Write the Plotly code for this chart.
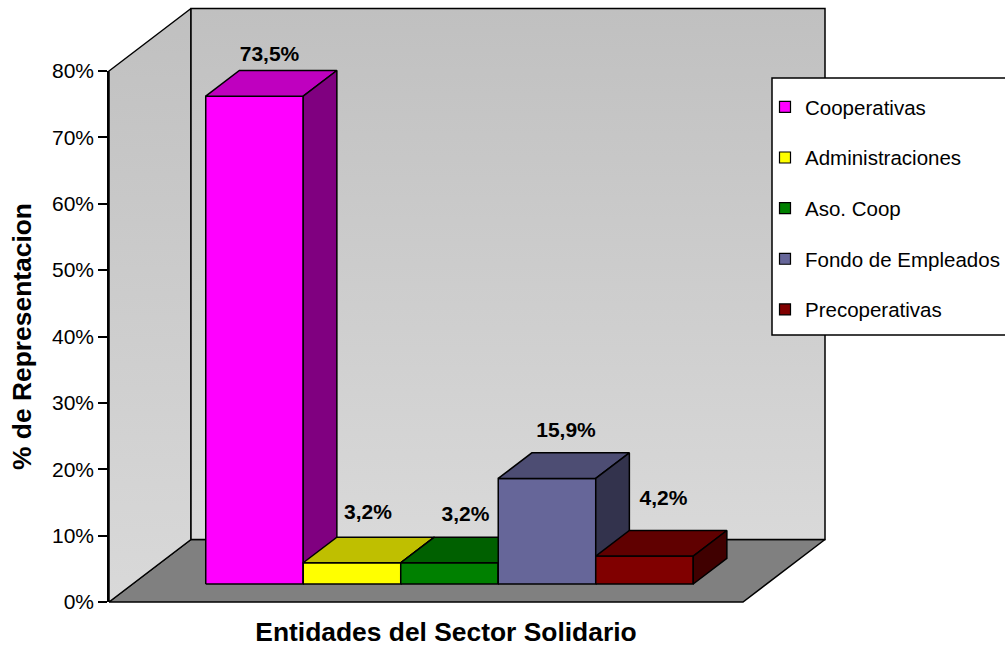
import plotly.graph_objects as go

# Data
categories = ["Cooperativas", "Administraciones", "Aso. Coop", "Fondo de Empleados", "Precoperativas"]
values = [73.5, 3.2, 3.2, 15.9, 4.2]
labels = ["73,5%", "3,2%", "3,2%", "15,9%", "4,2%"]
tick_values = [0, 10, 20, 30, 40, 50, 60, 70, 80]
tick_labels = ["0%", "10%", "20%", "30%", "40%", "50%", "60%", "70%", "80%"]
x_title = "Entidades del Sector Solidario"
y_title = "% de Representacion"

# Styles
front_colors = ["#FF00FF", "#FFFF00", "#008000", "#666699", "#800000"]
top_colors = ["#BF00BF", "#BFBF00", "#006000", "#4D4D73", "#600000"]
side_colors = ["#800080", "#808000", "#004000", "#33334D", "#400000"]
label_dx = [15, 16, 16, 19, 19]     # px, label centre from bar front centre
label_y_gap = [15, 23, 21, 21, 31]  # px, label centre above the rear top edge

# Page layout in px
W, H = 1005, 647
PLOT_L, PLOT_R, PLOT_T, PLOT_B = 105, 832, 4, 609   # drawing area holding the 3D box
AXIS_L, AXIS_R, AXIS_T, AXIS_B = 109, 783, 71, 602  # area of the value axis and titles
LEG_L, LEG_R, LEG_T, LEG_B = 772, 1010, 78, 335     # legend frame

# Scales
PX_PER_UNIT = 97.5
PX_PER_PCT = 531 / 80
FLOOR_W = 634 / PX_PER_UNIT          # 5 bars + 1.5 gap = 6.5 units
WALL_DX = 82 / PX_PER_UNIT
WALL_DY = 62.5 / PX_PER_PCT
BAR_START = 0.75
BAR_FRONT = 18 / 62.5                # depth fraction of the front face
BAR_DEPTH = 0.41                     # depth fraction of the bar

def proj(x, y, d):
    return x + d * WALL_DX, y + d * WALL_DY

def poly(points):
    xs, ys = zip(*points)
    return list(xs) + [xs[0]], list(ys) + [ys[0]]

LINE = dict(color="black", width=1.5)
fig = go.Figure()

def add_face(points, color=None, gradient=None):
    xs, ys = poly(points)
    kw = dict(fillgradient=gradient) if gradient else dict(fillcolor=color)
    fig.add_trace(go.Scatter(x=xs, y=ys, mode="lines", fill="toself", line=LINE,
                             showlegend=False, hoverinfo="skip", **kw))

ymax = tick_values[-1]
wall_grad = dict(type="vertical", colorscale=[[0, "#D9D9D9"], [1, "#C0C0C0"]])
# Floor, left wall, back wall
add_face([proj(0, 0, 0), proj(FLOOR_W, 0, 0), proj(FLOOR_W, 0, 1), proj(0, 0, 1)], color="#808080")
add_face([proj(0, 0, 0), proj(0, ymax, 0), proj(0, ymax, 1), proj(0, 0, 1)], gradient=wall_grad)
add_face([proj(0, 0, 1), proj(0, ymax, 1), proj(FLOOR_W, ymax, 1), proj(FLOOR_W, 0, 1)], gradient=wall_grad)

# Bars
d0, d1 = BAR_FRONT, BAR_FRONT + BAR_DEPTH
for i, v in enumerate(values):
    x0, x1 = BAR_START + i, BAR_START + i + 1
    add_face([proj(x0, 0, d0), proj(x1, 0, d0), proj(x1, v, d0), proj(x0, v, d0)], color=front_colors[i])
    add_face([proj(x0, v, d0), proj(x1, v, d0), proj(x1, v, d1), proj(x0, v, d1)], color=top_colors[i])
    add_face([proj(x1, 0, d0), proj(x1, 0, d1), proj(x1, v, d1), proj(x1, v, d0)], color=side_colors[i])

# Data labels
for i, v in enumerate(values):
    _, y = proj(0, v, d1)
    x = BAR_START + i + 0.5 + proj(0, 0, d0)[0] + label_dx[i] / PX_PER_UNIT
    fig.add_trace(go.Scatter(x=[x], y=[y + label_y_gap[i] / PX_PER_PCT], mode="text", text=[labels[i]],
                             textposition="middle center", cliponaxis=False, showlegend=False,
                             hoverinfo="skip",
                             textfont=dict(family="Liberation Sans", size=21, color="black", weight="bold")))

# Legend entries live on the axis subplot
for i, c in enumerate(categories):
    fig.add_trace(go.Scatter(x=[None], y=[None], xaxis="x2", yaxis="y2", mode="markers", name=c, legendgroup=c,
                             marker=dict(symbol="square", size=11, color=front_colors[i],
                                         line=dict(color="black", width=1.2))))

pw, ph = PLOT_R - PLOT_L, PLOT_B - PLOT_T
fig.update_layout(
    width=W, height=H,
    margin=dict(l=PLOT_L, r=W - PLOT_R, t=PLOT_T, b=H - PLOT_B, autoexpand=False),
    paper_bgcolor="white", plot_bgcolor="rgba(0,0,0,0)",
    font=dict(family="Liberation Sans", size=20, color="black"),
    # drawing axes of the 3D box
    xaxis=dict(domain=[0, 1], visible=False, fixedrange=True,
               range=[(PLOT_L - AXIS_L) / PX_PER_UNIT, (PLOT_R - AXIS_L) / PX_PER_UNIT]),
    yaxis=dict(domain=[0, 1], visible=False, fixedrange=True,
               range=[(AXIS_B - PLOT_B) / PX_PER_PCT, (AXIS_B - PLOT_T) / PX_PER_PCT]),
    # visible value axis and titles
    xaxis2=dict(domain=[(AXIS_L - PLOT_L) / pw, (AXIS_R - PLOT_L) / pw], anchor="y2", range=[0, 1],
                showticklabels=False, ticks="", showgrid=False, zeroline=False, showline=False,
                title=dict(text=x_title, standoff=22, font=dict(size=26.4, weight="bold"))),
    yaxis2=dict(domain=[(PLOT_B - AXIS_B) / ph, (PLOT_B - AXIS_T) / ph], anchor="x2", range=[0, ymax],
                tickmode="array", tickvals=tick_values, ticktext=tick_labels, ticks="outside", ticklen=9,
                tickwidth=1.5, tickcolor="black", showgrid=False, zeroline=False, showline=True,
                tickfont=dict(size=21),
                linecolor="black", linewidth=1.5,
                title=dict(text=y_title, standoff=13, font=dict(size=26.4, weight="bold"))),
    shapes=[dict(type="rect", xref="paper", yref="paper", layer="above",
                 x0=(LEG_L - PLOT_L) / pw, x1=(LEG_R - PLOT_L) / pw,
                 y0=(PLOT_B - LEG_B) / ph, y1=(PLOT_B - LEG_T) / ph,
                 fillcolor="white", line=dict(color="black", width=1.5))],
    legend=dict(xref="container", yref="container", x=765 / W, y=1 - 87 / H, xanchor="left",
                yanchor="top", bgcolor="rgba(0,0,0,0)", borderwidth=0,
                tracegroupgap=21, itemwidth=30, font=dict(size=20.5)),
)
fig.write_html("out.html", config=dict(displayModeBar=False),
               post_script="document.body.style.margin='0';")
